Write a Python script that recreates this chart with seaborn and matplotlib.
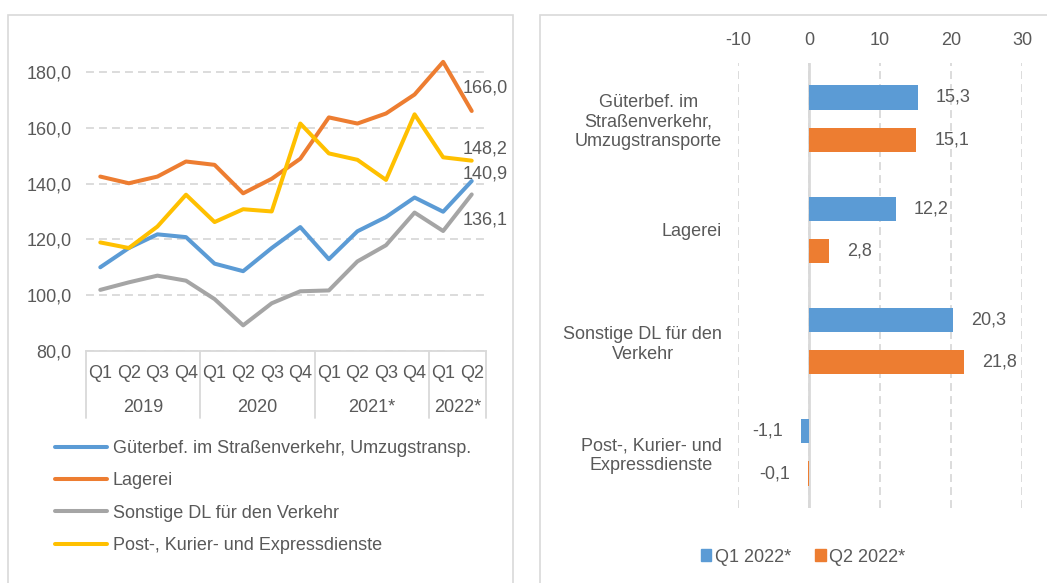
import pandas as pd
import matplotlib.pyplot as plt
import seaborn as sns
from matplotlib.patches import Rectangle, Patch
from matplotlib.lines import Line2D

# ---- data ----
quarters = ['Q1', 'Q2', 'Q3', 'Q4'] * 3 + ['Q1', 'Q2']
years = ['2019', '2020', '2021*', '2022*']
year_centers = [1.5, 5.5, 9.5, 12.5]
year_bounds = [-0.5, 3.5, 7.5, 11.5, 13.5]

gueter = [110.0, 116.9, 121.8, 120.8, 111.3, 108.6, 116.9, 124.4, 112.9, 122.9, 128.0, 135.0, 129.9, 140.9]
lagerei = [142.5, 140.1, 142.5, 147.9, 146.7, 136.5, 141.7, 148.9, 163.7, 161.5, 165.1, 171.9, 183.6, 166.0]
sonstige = [101.9, 104.6, 107.0, 105.2, 98.6, 89.2, 97.1, 101.4, 101.7, 112.1, 117.9, 129.6, 123.0, 136.1]
post = [118.9, 116.9, 124.6, 136.0, 126.2, 130.8, 130.0, 161.5, 150.8, 148.5, 141.3, 164.8, 149.4, 148.2]

series_names = ['Güterbef. im Straßenverkehr, Umzugstransp.', 'Lagerei',
                'Sonstige DL für den Verkehr', 'Post-, Kurier- und Expressdienste']
series_values = [gueter, lagerei, sonstige, post]
end_offsets = [7, 23, -26, 12]  # pixel offsets of end labels (gueter, lagerei, sonstige, post)

bar_cats = ['Güterbef. im\nStraßenverkehr,\nUmzugstransporte', 'Lagerei',
            'Sonstige DL für den\nVerkehr', 'Post-, Kurier- und\nExpressdienste']
periods = ['Q1 2022*', 'Q2 2022*']
q1_2022 = [15.3, 12.2, 20.3, -1.1]
q2_2022 = [15.1, 2.8, 21.8, -0.1]

colors = ['#5B9BD5', '#ED7D31', '#A5A5A5', '#FFC000']
txt = '#595959'
grid_c = '#d9d9d9'

sns.set_theme(style='white')
plt.rcParams['font.family'] = ['Liberation Sans', 'DejaVu Sans']
plt.rcParams['axes.unicode_minus'] = False
plt.rcParams['font.size'] = 13

W, H = 1047, 583
fig = plt.figure(figsize=(W / 100, H / 100), dpi=100)


def box(x0, y0, x1, y1):
    # pixel box (top-left origin) -> figure fraction rect
    return [x0 / W, 1 - y1 / H, (x1 - x0) / W, (y1 - y0) / H]


def fmt(v):
    return f'{v:.1f}'.replace('.', ',')


# panel frames
fig.add_artist(Rectangle((8 / W, -0.01), (513 - 8) / W, (H - 15) / H + 0.01,
                         transform=fig.transFigure, fill=False, ec=grid_c, lw=1.2))
fig.add_artist(Rectangle((540 / W, -0.01), 0.6, (H - 15) / H + 0.01,
                         transform=fig.transFigure, fill=False, ec=grid_c, lw=1.2))

# ---- left: line chart ----
ax1 = fig.add_axes(box(86, 44, 486, 351))
rows = []
for name, vals in zip(series_names, series_values):
    for i, v in enumerate(vals):
        rows.append({'idx': i, 'value': v, 'series': name})
df = pd.DataFrame(rows)
sns.lineplot(data=df, x='idx', y='value', hue='series', hue_order=series_names,
             palette=colors, linewidth=2.9, legend=False, ax=ax1, zorder=3)

ax1.set_xlim(-0.5, 13.5)
ax1.set_ylim(80, 190)
ax1.set_yticks([80, 100, 120, 140, 160, 180])
ax1.set_yticklabels([fmt(v) for v in [80, 100, 120, 140, 160, 180]], color=txt)
ax1.set_xticks([])
ax1.set_xlabel('')
ax1.set_ylabel('')
ax1.tick_params(axis='y', length=0, pad=10.5, labelsize=13)
ax1.yaxis.grid(True, linestyle=(0, (4.4, 2.8)), color=grid_c, lw=1.3)
for s in ['left', 'right', 'top']:
    ax1.spines[s].set_visible(False)
ax1.spines['bottom'].set_color(grid_c)
ax1.spines['bottom'].set_linewidth(1.3)

for i, q in enumerate(quarters):
    ax1.annotate(q, xy=(i, 0), xycoords=('data', 'axes fraction'), xytext=(0, -22),
                 textcoords='offset pixels', ha='center', va='center', color=txt, fontsize=13)
for c, y in zip(year_centers, years):
    ax1.annotate(y, xy=(c, 0), xycoords=('data', 'axes fraction'), xytext=(0, -57),
                 textcoords='offset pixels', ha='center', va='center', color=txt, fontsize=13)
ax_h = 351 - 44
for b in year_bounds:
    ax1.plot([b, b], [0, -67 / ax_h], transform=ax1.get_xaxis_transform(),
             clip_on=False, color=grid_c, lw=1.3)

for vals, dy in zip(series_values, end_offsets):
    ax1.annotate(fmt(vals[-1]), xy=(13, vals[-1]), xytext=(-9, dy), textcoords='offset pixels',
                 ha='left', va='center', color=txt, fontsize=13)

handles = [Line2D([], [], color=c, lw=2.9) for c in colors]
fig.legend(handles, series_names, loc='upper left', bbox_to_anchor=(55 / W, 1 - 440 / H),
           frameon=False, borderpad=0, borderaxespad=0, handlelength=2.9, handletextpad=0.3,
           labelspacing=0.85, fontsize=13, labelcolor=txt)

# ---- right: horizontal bars ----
ax2 = fig.add_axes(box(738, 63, 1022, 508))
dfb = pd.DataFrame({
    'cat': bar_cats * 2,
    'value': q1_2022 + q2_2022,
    'period': [periods[0]] * 4 + [periods[1]] * 4,
})
sns.barplot(data=dfb, y='cat', x='value', hue='period', hue_order=periods, order=bar_cats,
            palette=colors[:2], orient='h', width=0.76, ax=ax2, zorder=3,
            edgecolor='none', saturation=1)
if ax2.get_legend() is not None:
    ax2.get_legend().remove()

for cont in ax2.containers:
    for p in cont:
        cy = p.get_y() + p.get_height() / 2
        p.set_height(0.216)
        p.set_y(cy - 0.108)
    ax2.bar_label(cont, labels=[fmt(v) for v in cont.datavalues], padding=13,
                  color=txt, fontsize=13)

ax2.set_xlim(-10, 30)
ax2.set_ylim(3.5, -0.5)
ax2.set_xticks([-10, 0, 10, 20, 30])
ax2.set_xticklabels(['-10', '0', '10', '20', '30'], color=txt)
ax2.xaxis.tick_top()
ax2.tick_params(axis='x', length=0, pad=10, labelsize=13)
ax2.tick_params(axis='y', length=0, pad=11.5, labelsize=13, labelcolor=txt)
for lbl in ax2.get_yticklabels():
    lbl.set_multialignment('center')
ax2.set_xlabel('')
ax2.set_ylabel('')
ax2.xaxis.grid(True, linestyle=(0, (4.4, 2.8)), color=grid_c, lw=1.3)
ax2.axvline(0, color=grid_c, lw=2, zorder=2)
for s in ax2.spines.values():
    s.set_visible(False)

bar_handles = [Patch(color=c) for c in colors[:2]]
fig.legend(bar_handles, periods, loc='center', bbox_to_anchor=(803 / W, 1 - 557 / H), ncol=2,
           frameon=False, handlelength=0.6, handleheight=0.6, handletextpad=0.2,
           columnspacing=1.3, fontsize=13, labelcolor=txt)

fig.savefig('out.png', dpi=100)
